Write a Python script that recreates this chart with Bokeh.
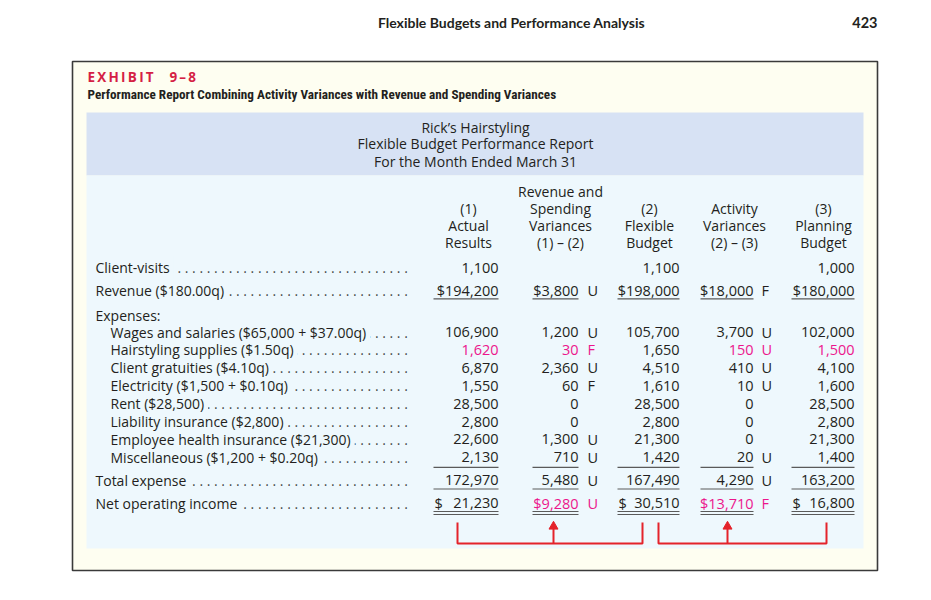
from bokeh.plotting import figure
from bokeh.models import Range1d
from bokeh.core.properties import value
from bokeh.embed import file_html
from bokeh.resources import INLINE

# ---------------- data ----------------
page_title = "Flexible Budgets and Performance Analysis"
page_number = "423"
exhibit = "E\u2009X\u2009H\u2009I\u2009B\u2009I\u2009T\u2003\u20099\u2009–\u20098"
subtitle = "Performance Report Combining Activity Variances with Revenue and Spending Variances"
report_title = ["Rick’s Hairstyling", "Flexible Budget Performance Report", "For the Month Ended March 31"]
col_headers = [
    ["", "(1)", "Actual", "Results"],
    ["Revenue and", "Spending", "Variances", "(1) – (2)"],
    ["", "(2)", "Flexible", "Budget"],
    ["", "Activity", "Variances", "(2) – (3)"],
    ["", "(3)", "Planning", "Budget"],
]
labels = [
    "Client-visits",
    "Revenue ($180.00q)",
    "Expenses:",
    "Wages and salaries ($65,000 + $37.00q)",
    "Hairstyling supplies ($1.50q)",
    "Client gratuities ($4.10q)",
    "Electricity ($1,500 + $0.10q)",
    "Rent ($28,500)",
    "Liability insurance ($2,800)",
    "Employee health insurance ($21,300)",
    "Miscellaneous ($1,200 + $0.20q)",
    "Total expense",
    "Net operating income",
]
indented = [0, 0, 0, 1, 1, 1, 1, 1, 1, 1, 1, 0, 0]
has_leader = [1, 1, 0, 1, 1, 1, 1, 1, 1, 1, 1, 1, 1]

actual = [1100, 194200, None, 106900, 1620, 6870, 1550, 28500, 2800, 22600, 2130, 172970, 21230]
spending_var = [None, 3800, None, 1200, 30, 2360, 60, 0, 0, 1300, 710, 5480, 9280]
spending_flag = ["", "U", "", "U", "F", "U", "F", "", "", "U", "U", "U", "U"]
flexible = [1100, 198000, None, 105700, 1650, 4510, 1610, 28500, 2800, 21300, 1420, 167490, 30510]
activity_var = [None, 18000, None, 3700, 150, 410, 10, 0, 0, 0, 20, 4290, 13710]
activity_flag = ["", "F", "", "U", "U", "U", "U", "", "", "", "U", "U", "F"]
planning = [1000, 180000, None, 102000, 1500, 4100, 1600, 28500, 2800, 21300, 1400, 163200, 16800]

columns = [actual, spending_var, flexible, activity_var, planning]
flags = {1: spending_flag, 3: activity_flag}
highlighted = {(4, 0), (4, 1), (4, 3), (4, 4), (12, 1), (12, 3)}
revenue_row, misc_row, total_row, net_row = 1, 10, 11, 12

# ---------------- layout / style ----------------
FONT = "Open Sans"
TITLE_FONT = "Lato"
NARROW = "'Roboto Condensed', 'DejaVu Sans Condensed', 'Liberation Sans Narrow', Roboto"
INK = "#231F20"
PINK = "#EC168C"
RED = "#E4232B"
CREAM = "#FEFEF1"
BAND = "#D7E2F4"
BODY = "#EEF8FD"
DY = -5  # baseline correction for rendered text

row_y = [272, 294.5, 320, 336.5, 354.4, 372.3, 390.2, 408.1, 426, 443.9, 461.8, 484.5, 507.5]
col_right = [498, 578, 679, 753, 854]
col_left = [433, 532, 617, 700, 791]
col_center = [468, 560, 649, 734, 823]
flag_x = {1: 587, 3: 761}
head_y = [195.7, 213.3, 230, 246.7]
title_y = [131.7, 148.3, 165.7]

p = figure(width=915, height=584, x_range=Range1d(0, 915), y_range=Range1d(584, 0),
           output_backend="svg", toolbar_location=None, min_border=0,
           x_axis_location=None, y_axis_location=None)
p.grid.visible = False
p.outline_line_color = None
p.background_fill_color = "white"
p.border_fill_color = "white"


def txt(x, y, t, align="left", color=INK, size="14px", style="normal", font=FONT, **kw):
    return p.text(x=x, y=[v + DY for v in y], text=t, text_align=align, text_baseline="alphabetic",
                  text_color=color, text_font_size=size, text_font_style=style,
                  text_font=value(font), **kw)


# boxes
p.quad(left=[72], right=[877], top=[61], bottom=[570], fill_color=CREAM,
       line_color="#3A3A3A", line_width=1.6)
p.quad(left=[86], right=[863], top=[112], bottom=[175], fill_color=BAND, line_color=None)
p.quad(left=[86], right=[863], top=[175], bottom=[548], fill_color=BODY, line_color=None)

# page header
txt([511], [26.5], [page_title], align="center", size="14px", style="bold", font=TITLE_FONT)
txt([877], [26.5], [page_number], align="right", size="14.5px", style="bold", font=TITLE_FONT)
txt([87], [81], [exhibit], color="#D51F45", size="13.5px", style="bold")
txt([87], [98.5], [subtitle], size="13.2px", style="bold", font=NARROW)

# report title
txt([475] * 3, title_y, report_title, align="center")

# column headers
hx, hy, ht = [], [], []
for c, lines in enumerate(col_headers):
    for i, s in enumerate(lines):
        if s:
            hx.append(col_center[c]); hy.append(head_y[i]); ht.append(s)
txt(hx, hy, ht, align="center")

# leader dots (right aligned, masked by the labels)
dx, dy, dt = [], [], []
for r, lab in enumerate(labels):
    if has_leader[r]:
        n = 38 if indented[r] else 40
        dx.append(411); dy.append(row_y[r]); dt.append(" ." * n)
txt(dx, dy, dt, align="right", font=FONT, text_alpha=0.85)

# row labels: first a mask hiding the dots behind each label, then the text
lx = [110 if indented[r] else 95 for r in range(len(labels))]
txt(lx, row_y, labels, background_fill_color=BODY, padding=2, text_alpha=0)
txt(lx, row_y, labels)

# numbers
nx, ny, nt, nc = [], [], [], []
fx, fy, ft, fc = [], [], [], []
for c, col in enumerate(columns):
    for r, v in enumerate(col):
        if v is None:
            continue
        s = f"{v:,}"
        color = PINK if (r, c) in highlighted else INK
        if r == revenue_row:
            s = "$" + s
        if r == net_row:
            if c in (1, 3):
                s = "$" + s
            else:
                fx.append(col_left[c] + 1); fy.append(row_y[r]); ft.append("$"); fc.append(color)
        nx.append(col_right[c]); ny.append(row_y[r]); nt.append(s); nc.append(color)
        if c in flags and flags[c][r]:
            fx.append(flag_x[c]); fy.append(row_y[r]); ft.append(flags[c][r]); fc.append(color)
txt(nx, ny, nt, align="right", color=nc, size="14.5px")
txt(fx, fy, ft, align="left", color=fc, size="14.5px")

# rules
sx0, sx1, sy = [], [], []
for yy in (298.3, 466.8, 488.5, 511, 514):
    for c in range(5):
        sx0.append(col_left[c]); sx1.append(col_right[c]); sy.append(yy)
p.segment(x0=sx0, x1=sx1, y0=sy, y1=sy, line_color="#5A5A5A", line_width=1.2)

# brackets with arrows
brackets = [(457, 642, 553), (658, 826, 727)]
for a, b, m in brackets:
    p.multi_line(xs=[[a, a, b, b], [m, m]], ys=[[522, 543, 543, 522], [543, 528]],
                 line_color=RED, line_width=2)
    p.scatter(x=[m], y=[526], marker="triangle", size=9, fill_color=RED, line_color=RED)

open("out.html", "w").write(file_html(p, INLINE))
